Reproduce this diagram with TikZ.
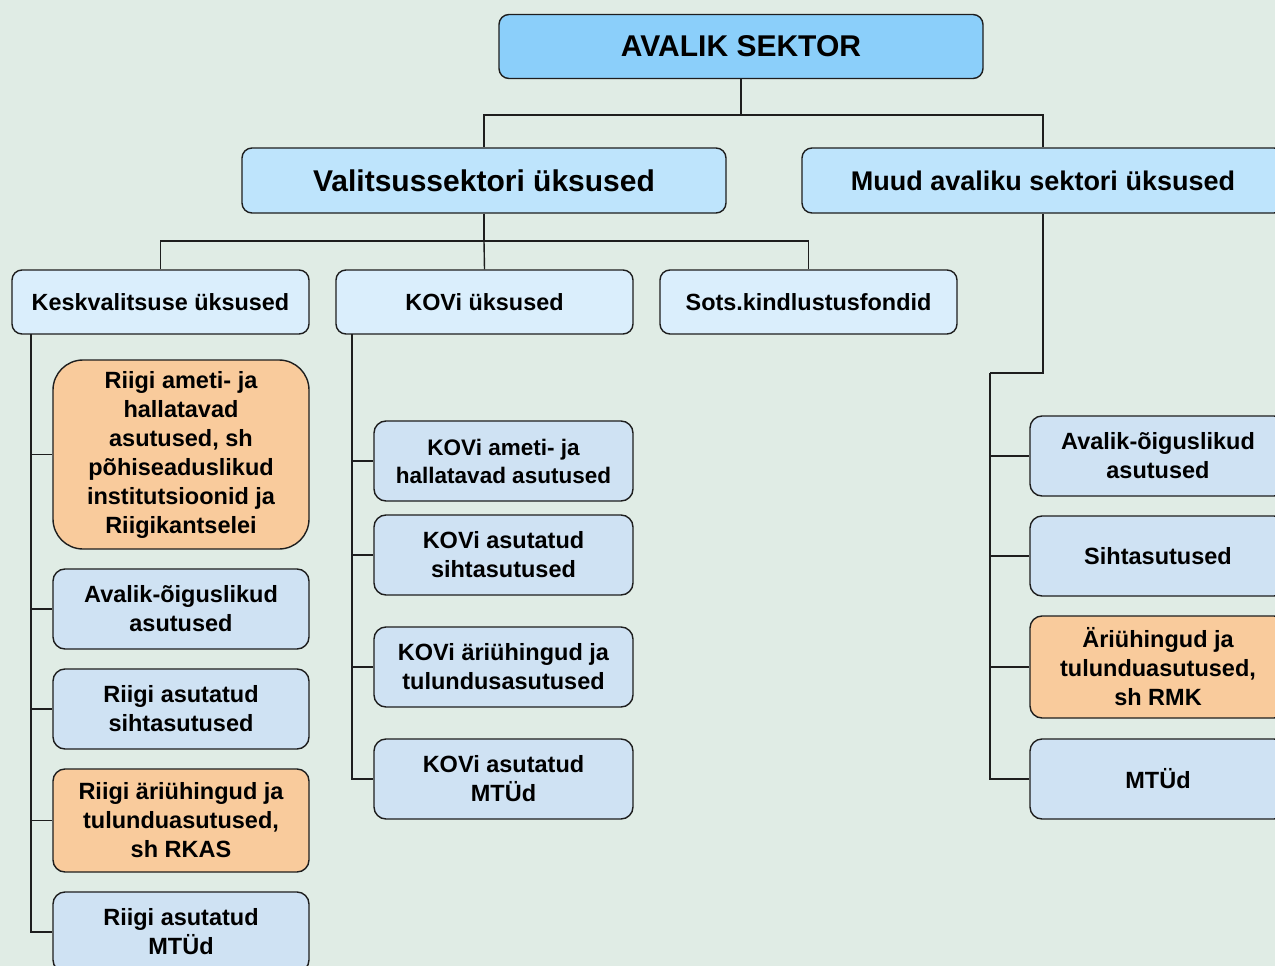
\documentclass[tikz,border=0pt]{standalone}
\usepackage{fontspec}
\setmainfont{Liberation Sans}
\definecolor{bgc}{RGB}{224,236,229}
\definecolor{topc}{RGB}{139,207,250}
\definecolor{secc}{RGB}{190,228,252}
\definecolor{thirdc}{RGB}{218,238,252}
\definecolor{leafc}{RGB}{207,226,243}
\definecolor{orangec}{RGB}{249,203,156}
\definecolor{linec}{RGB}{30,30,30}
\tikzset{
  box/.style={draw=linec, line width=1.4pt, rounded corners=10pt, inner sep=0pt, align=center, font=\bfseries},
  topbox/.style={box, fill=topc, font=\bfseries\fontsize{30}{34}\selectfont},
  secbox/.style={box, fill=secc, font=\bfseries\fontsize{30}{34}\selectfont},
  thirdbox/.style={box, fill=thirdc, font=\bfseries\fontsize{23.4}{28}\selectfont},
  leafbox/.style={box, fill=leafc, rounded corners=12pt, font=\bfseries\fontsize{23.5}{29}\selectfont},
  orbox/.style={leafbox, fill=orangec},
  conn/.style={draw=linec, line width=1.4pt}
}
\begin{document}
\begin{tikzpicture}[x=1pt,y=-1pt]
\useasboundingbox (0,0) rectangle (1275,966);
\clip (0,0) rectangle (1275,966);
\fill[bgc] (0,0) rectangle (1275,966);

\node[topbox, minimum width=484pt, minimum height=64pt] (top) at (741,46.5) {AVALIK SEKTOR};
\node[secbox, minimum width=484pt, minimum height=65pt] (valit) at (484,180.5) {Valitsussektori üksused};
\node[secbox, minimum width=482pt, minimum height=65pt, font=\bfseries\fontsize{27}{32}\selectfont] (muud) at (1043,180.5) {Muud avaliku sektori üksused};

\node[thirdbox, minimum width=297pt, minimum height=64pt] (kesk) at (160.5,302) {Keskvalitsuse üksused};
\node[thirdbox, minimum width=297pt, minimum height=64pt] (kovi) at (484.5,302) {KOVi üksused};
\node[thirdbox, minimum width=297pt, minimum height=64pt] (sots) at (808.5,302) {Sots.kindlustusfondid};

\node[orbox, rounded corners=30pt, minimum width=256pt, minimum height=189pt] (r1) at (181,454.5) {Riigi ameti- ja\\hallatavad\\asutused, sh\\põhiseaduslikud\\institutsioonid ja\\Riigikantselei};
\node[leafbox, minimum width=256pt, minimum height=80pt] (r2) at (181,609) {Avalik-õiguslikud\\asutused};
\node[leafbox, minimum width=256pt, minimum height=80pt] (r3) at (181,709) {Riigi asutatud\\sihtasutused};
\node[orbox, minimum width=256pt, minimum height=103pt] (r4) at (181,820.5) {Riigi äriühingud ja\\tulunduasutused,\\sh RKAS};
\node[leafbox, minimum width=256pt, minimum height=80pt] (r5) at (181,932) {Riigi asutatud\\MTÜd};

\node[leafbox, minimum width=259pt, minimum height=80pt, font=\bfseries\fontsize{22.5}{28}\selectfont] (k1) at (503.5,461) {KOVi ameti- ja\\hallatavad asutused};
\node[leafbox, minimum width=259pt, minimum height=80pt] (k2) at (503.5,555) {KOVi asutatud\\sihtasutused};
\node[leafbox, minimum width=259pt, minimum height=80pt] (k3) at (503.5,667) {KOVi äriühingud ja\\tulundusasutused};
\node[leafbox, minimum width=259pt, minimum height=80pt] (k4) at (503.5,779) {KOVi asutatud\\MTÜd};

\node[leafbox, minimum width=256pt, minimum height=80pt] (m1) at (1158,456) {Avalik-õiguslikud\\asutused};
\node[leafbox, minimum width=256pt, minimum height=80pt] (m2) at (1158,556) {Sihtasutused};
\node[orbox, minimum width=256pt, minimum height=102pt] (m3) at (1158,667) {Äriühingud ja\\tulunduasutused,\\sh RMK};
\node[leafbox, minimum width=256pt, minimum height=80pt] (m4) at (1158,779) {MTÜd};

\coordinate (j1) at (741,115);
\coordinate (j2) at (484,241);
\coordinate (ks) at (31,334);
\coordinate (kv) at (352,334);
\coordinate (mj) at (1043,373);
\coordinate (mk) at (990,373);

\draw[conn] (top.south) -- (j1);
\draw[conn] (j1) -| (valit.north);
\draw[conn] (j1) -| (muud.north);

\draw[conn] (valit.south) -- (j2);
\draw[conn] (j2) -| (kesk.north);
\draw[conn] (j2) -- (kovi.north);
\draw[conn] (j2) -| (sots.north);

\draw[conn] (ks) |- (r1.west);
\draw[conn] (ks) |- (r2.west);
\draw[conn] (ks) |- (r3.west);
\draw[conn] (ks) |- (r4.west);
\draw[conn] (ks) |- (r5.west);

\draw[conn] (kv) |- (k1.west);
\draw[conn] (kv) |- (k2.west);
\draw[conn] (kv) |- (k3.west);
\draw[conn] (kv) |- (k4.west);

\draw[conn] (muud.south) -- (mj) -- (mk);
\draw[conn] (mk) |- (m1.west);
\draw[conn] (mk) |- (m2.west);
\draw[conn] (mk) |- (m3.west);
\draw[conn] (mk) |- (m4.west);
\end{tikzpicture}
\end{document}
